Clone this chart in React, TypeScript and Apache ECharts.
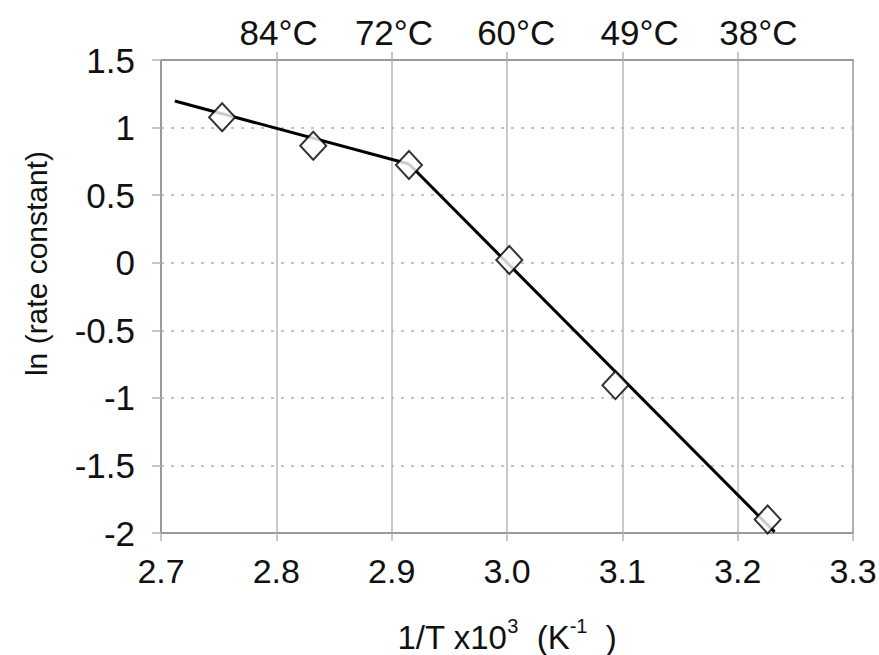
import React, { useEffect, useRef } from "react";
import * as echarts from "echarts";

// measured points: 1/T x10^3 and ln(rate constant)
const invT = [2.753, 2.832, 2.915, 3.002, 3.094, 3.226];
const lnK = [1.076, 0.866, 0.723, 0.02, -0.906, -1.9];

// fitted lines (two regimes)
const fit1X = [2.712, 2.915];
const fit1Y = [1.197, 0.73];
const fit2X = [2.915, 3.232];
const fit2Y = [0.73, -1.992];

// top temperature axis
const tempTickPos = [2.8, 2.9, 3.0, 3.1, 3.2];
const tempLabelPos = [2.802, 2.902, 3.008, 3.115, 3.218];
const tempLabels = ["84°C", "72°C", "60°C", "49°C", "38°C"];

const FONT = "'Liberation Sans', Arial, Helvetica, sans-serif";
const AXIS_GRAY = "#9a9a9a";

export default function App() {
  const ref = useRef<HTMLDivElement>(null);
  useEffect(() => {
    if (!ref.current) return;
    const chart = echarts.init(ref.current, undefined, { renderer: "svg" });
    const pts = invT.map((x, i) => [x, lnK[i]]);
    const l1 = fit1X.map((x, i) => [x, fit1Y[i]]);
    const l2 = fit2X.map((x, i) => [x, fit2Y[i]]);
    chart.setOption({
      animation: false,
      backgroundColor: "#ffffff",
      grid: {
        left: 161,
        top: 60,
        right: 26,
        bottom: 122,
        outerBoundsMode: "none",
        containLabel: false,
        show: true,
        borderColor: AXIS_GRAY,
        borderWidth: 2,
        backgroundColor: "transparent",
      },
      xAxis: [
        {
          type: "value",
          position: "bottom",
          min: 2.7,
          max: 3.3,
          interval: 0.1,
          axisLine: { show: true, onZero: false, lineStyle: { color: AXIS_GRAY, width: 2 } },
          axisTick: { show: true, inside: false, length: 8, lineStyle: { color: "#b5b5b5", width: 1.5 } },
          splitLine: { show: true, lineStyle: { color: "#b8b8b8", width: 1.5, type: "solid" } },
          axisLabel: {
            margin: 21,
            color: "#111",
            fontSize: 34,
            fontFamily: FONT,
            formatter: (v: number) => v.toFixed(1),
          },
          name: "{n|1/T x10}{s|3}{n|  (K}{s|-1}{n|  )}",
          nameLocation: "middle",
          nameGap: 83,
          nameTextStyle: {
            rich: {
              n: { fontSize: 33, fontFamily: FONT, color: "#111", lineHeight: 38, verticalAlign: "bottom" },
              s: { fontSize: 20, fontFamily: FONT, color: "#111", lineHeight: 38, verticalAlign: "top" },
            },
          },
        },
        {
          type: "value",
          position: "top",
          min: 2.7,
          max: 3.3,
          interval: 0.1,
          axisLine: { show: true, onZero: false, lineStyle: { color: AXIS_GRAY, width: 2 } },
          axisTick: {
            show: true,
            inside: false,
            length: 8,
            customValues: tempTickPos,
            lineStyle: { color: "#b5b5b5", width: 1.5 },
          },
          splitLine: { show: false },
          axisLabel: {
            margin: 10,
            color: "#111",
            fontSize: 35,
            fontFamily: FONT,
            customValues: tempLabelPos,
            formatter: (v: number) => {
              const i = tempLabelPos.findIndex((t) => Math.abs(t - v) < 1e-6);
              return i >= 0 ? tempLabels[i] : "";
            },
          },
        },
      ],
      yAxis: {
        type: "value",
        min: -2,
        max: 1.5,
        interval: 0.5,
        axisLine: { show: true, onZero: false, lineStyle: { color: AXIS_GRAY, width: 2 } },
        axisTick: { show: true, inside: false, length: 9, lineStyle: { color: "#b5b5b5", width: 1.5 } },
        splitLine: { show: true, lineStyle: { color: "#c4c4c4", width: 2, type: [3, 7] } },
        axisLabel: {
          margin: 26,
          color: "#111",
          fontSize: 35,
          fontFamily: FONT,
        },
        name: "ln (rate constant)",
        nameLocation: "middle",
        nameGap: 110,
        nameTextStyle: { fontSize: 30, fontFamily: FONT, color: "#111", padding: [0, 0, 0, 66] },
      },
      series: [
        {
          type: "line",
          data: l1,
          symbol: "none",
          lineStyle: { color: "#000", width: 3 },
          z: 3,
        },
        {
          type: "line",
          data: l2,
          symbol: "none",
          lineStyle: { color: "#000", width: 3 },
          z: 3,
        },
        {
          type: "scatter",
          data: pts,
          symbol: "diamond",
          symbolSize: [26, 28],
          itemStyle: { color: "#fff", borderColor: "#000", borderWidth: 2 },
          z: 5,
        },
      ],
    });
    return () => chart.dispose();
  }, []);
  return (
    <div
      ref={ref}
      style={{ position: "fixed", left: 0, top: 0, width: 879, height: 655 }}
    />
  );
}
